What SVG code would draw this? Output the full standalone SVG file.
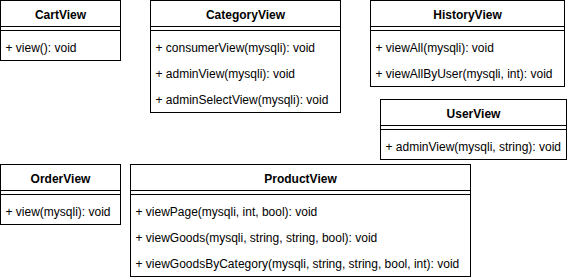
<svg xmlns="http://www.w3.org/2000/svg" width="571" height="280" viewBox="0 0 571 280">
  <style>
    .box { fill: #ffffff; stroke: #000000; stroke-width: 1; }
    .sep { stroke: #000000; stroke-width: 1; fill: none; }
    .title { font-family: "Liberation Sans", Arial, Helvetica, sans-serif; font-size: 12px; font-weight: bold; fill: #000000; text-anchor: middle; }
    .member { font-family: "Liberation Sans", Arial, Helvetica, sans-serif; font-size: 12px; fill: #000000; }
  </style>
  <rect width="571" height="280" fill="#ffffff"/>

  <g id="CartView" transform="translate(0.5,0.5)">
    <rect class="box" x="0" y="0" width="120" height="60"/>
    <line class="sep" x1="0" y1="26" x2="120" y2="26"/>
    <line class="sep" x1="0" y1="30" x2="120" y2="30"/>
    <text class="title" x="60" y="18">CartView</text>
    <text class="member" x="5" y="51">+ view(): void</text>
  </g>

  <g id="CategoryView" transform="translate(150.5,0.5)">
    <rect class="box" x="0" y="0" width="190" height="112"/>
    <line class="sep" x1="0" y1="26" x2="190" y2="26"/>
    <line class="sep" x1="0" y1="30" x2="190" y2="30"/>
    <text class="title" x="95" y="18">CategoryView</text>
    <text class="member" x="5" y="51">+ consumerView(mysqli): void</text>
    <text class="member" x="5" y="77">+ adminView(mysqli): void</text>
    <text class="member" x="5" y="103">+ adminSelectView(mysqli): void</text>
  </g>

  <g id="HistoryView" transform="translate(370.5,0.5)">
    <rect class="box" x="0" y="0" width="194" height="86"/>
    <line class="sep" x1="0" y1="26" x2="194" y2="26"/>
    <line class="sep" x1="0" y1="30" x2="194" y2="30"/>
    <text class="title" x="97" y="18">HistoryView</text>
    <text class="member" x="5" y="51">+ viewAll(mysqli): void</text>
    <text class="member" x="5" y="77">+ viewAllByUser(mysqli, int): void</text>
  </g>

  <g id="UserView" transform="translate(380.5,99.5)">
    <rect class="box" x="0" y="0" width="186" height="60"/>
    <line class="sep" x1="0" y1="26" x2="186" y2="26"/>
    <line class="sep" x1="0" y1="30" x2="186" y2="30"/>
    <text class="title" x="93" y="18">UserView</text>
    <text class="member" x="5" y="51">+ adminView(mysqli, string): void</text>
  </g>

  <g id="OrderView" transform="translate(0.5,164.5)">
    <rect class="box" x="0" y="0" width="120" height="60"/>
    <line class="sep" x1="0" y1="26" x2="120" y2="26"/>
    <line class="sep" x1="0" y1="30" x2="120" y2="30"/>
    <text class="title" x="60" y="18">OrderView</text>
    <text class="member" x="5" y="51">+ view(mysqli): void</text>
  </g>

  <g id="ProductView" transform="translate(130.5,164.5)">
    <rect class="box" x="0" y="0" width="340" height="112"/>
    <line class="sep" x1="0" y1="26" x2="340" y2="26"/>
    <line class="sep" x1="0" y1="30" x2="340" y2="30"/>
    <text class="title" x="170" y="18">ProductView</text>
    <text class="member" x="5" y="51">+ viewPage(mysqli, int, bool): void</text>
    <text class="member" x="5" y="77">+ viewGoods(mysqli, string, string, bool): void</text>
    <text class="member" x="5" y="103">+ viewGoodsByCategory(mysqli, string, string, bool, int): void</text>
  </g>

  <g id="connectors"></g>
</svg>
